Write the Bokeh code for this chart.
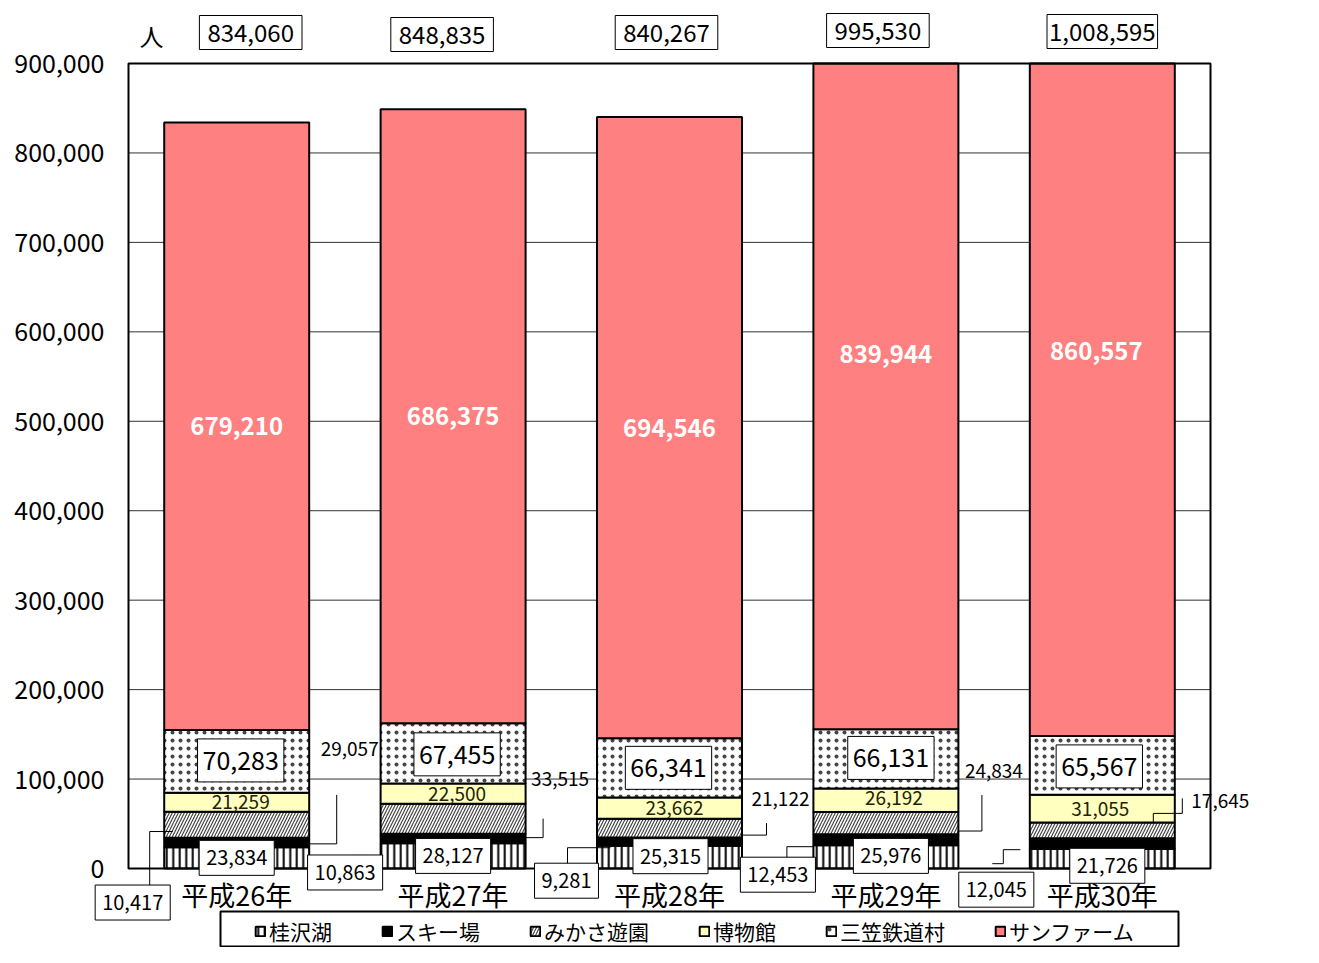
import numpy as np
from bokeh.plotting import figure
from bokeh.models import Range1d, Label
from bokeh.embed import file_html
from bokeh.resources import INLINE

# ---------------- data ----------------
categories = ["平成26年", "平成27年", "平成28年", "平成29年", "平成30年"]
series_names = ["桂沢湖", "スキー場", "みかさ遊園", "博物館", "三笠鉄道村", "サンファーム"]
katsurazawa = [23834, 28127, 25315, 25976, 21726]
ski = [10417, 10863, 9281, 12453, 12045]
mikasa_yuen = [29057, 33515, 21122, 24834, 17645]
museum = [21259, 22500, 23662, 26192, 31055]
railway = [70283, 67455, 66341, 66131, 65567]
sunfarm = [679210, 686375, 694546, 839944, 860557]
y_ticks = [0, 100000, 200000, 300000, 400000, 500000, 600000, 700000, 800000, 900000]
unit_label = "人"

# ---------------- layout ----------------
FONT = "Noto Sans CJK JP"
W, H = 1303, 947
PL, PR, PT, PB = 128, 1210, 63, 868      # plot-area edges in canvas pixels
YMAX = 900000
n = len(categories)
px_x = (PR - PL) / n
px_y = (PB - PT) / YMAX

def to_dx(px):          # canvas px -> data x
    return (px - PL) / px_x

def to_dy(py):          # canvas px (from top) -> data y
    return (PB - py) / px_y

x_range = Range1d(to_dx(0), to_dx(W))
y_range = Range1d(to_dy(H), to_dy(0))

p = figure(width=W, height=H, x_range=x_range, y_range=y_range,
           output_backend="svg", toolbar_location=None,
           x_axis_location=None, y_axis_location=None, min_border=0)
p.grid.visible = False
p.outline_line_color = None
p.background_fill_color = "white"
p.border_fill_color = "white"

xs = [i + 0.5 for i in range(n)]
series = [katsurazawa, ski, mikasa_yuen, museum, railway, sunfarm]
arr = np.array(series, dtype=float)
tops = np.cumsum(arr, axis=0)
bots = tops - arr
mids = (tops + bots) / 2
totals = arr.sum(axis=0)

# grid lines inside the plot area
p.segment(x0=[0] * len(y_ticks), x1=[n] * len(y_ticks), y0=y_ticks, y1=y_ticks,
          line_color="#333333", line_width=1)

# bars (clipped at the axis maximum like the original)
fills = ["white", "black", "white", "#FFFFC0", "white", "#FF8080"]
hatches = ["vertical_line", " ", "right_diagonal_line", " ", "dot", " "]
hcolors = ["black", "black", "#444444", "black", "#444444", "black"]
hscales = [6.5, 7, 6, 7, 8, 7]
hweights = [2, 1, 1.2, 1, 0.5, 1]
for si in range(len(series)):
    p.vbar(x=xs, width=0.67, bottom=np.minimum(bots[si], YMAX), top=np.minimum(tops[si], YMAX),
           fill_color=fills[si], line_color="black", line_width=2,
           hatch_pattern=hatches[si], hatch_color=hcolors[si],
           hatch_scale=hscales[si], hatch_weight=hweights[si],
           legend_label=series_names[si])

# plot-area frame
p.quad(left=[0], right=[n], bottom=[0], top=[YMAX], fill_color=None,
       line_color="black", line_width=2)

# legend frame
p.quad(left=[to_dx(220)], right=[to_dx(1178)], bottom=[to_dy(946)], top=[to_dy(911)],
       fill_color="white", line_color="black", line_width=2)

# y tick labels
for t in y_ticks:
    p.add_layout(Label(x=0, y=t, x_offset=-24, text=f"{t:,}", text_font=FONT,
                       text_font_size="25px", text_color="black",
                       text_align="right", text_baseline="middle"))

# category labels
for x, c in zip(xs, categories):
    p.add_layout(Label(x=x, y=0, y_offset=-26, text=c, text_font=FONT,
                       text_font_size="27px", text_color="black",
                       text_align="center", text_baseline="middle"))

# ---------------- data labels ----------------
def fmt(v):
    return f"{int(v):,}"

label_offsets = {
    0: [(0, 0), (0, 0), (1, -1), (5, -1), (5, 7)],
    1: [(-104, 60), (-108, 34), (-103, 39), (-108, 35), (-106, 46)],
    2: [(113, -76), (107, -40), (111, -29), (108, -52), (118, -29)],
    3: [(4, 0), (4, 0), (5, 0), (8, -2), (-2, 0)],
    4: [(4, -1), (4, 1), (-1, 0), (5, -1), (-3, 1)],
    5: [(0, 0), (0, 0), (0, 0), (0, 0), (-6, 0)],
}
label_style = {
    0: dict(size="20px", box=True, color="black", bold=False, pad=(7, 10)),
    1: dict(size="20px", box=True, color="black", bold=False, pad=(7, 10)),
    2: dict(size="19px", box=False, color="black", bold=False, pad=None),
    3: dict(size="19px", box=False, color="#222200", bold=False, pad=None),
    4: dict(size="25px", box=True, color="black", bold=False, pad=(5, 12)),
    5: dict(size="24px", box=False, color="white", bold=True, pad=None),
}

for si in range(len(series)):
    st = label_style[si]
    for ci in range(n):
        dx, dy = label_offsets[si][ci]
        kw = dict(x=xs[ci], y=mids[si, ci], x_offset=dx, y_offset=-dy,
                  text=fmt(arr[si, ci]), text_font=FONT, text_font_size=st["size"],
                  text_color=st["color"], text_align="center", text_baseline="middle",
                  text_font_style="bold" if st["bold"] else "normal")
        if st["box"]:
            ph, pv = st["pad"]
            kw.update(background_fill_color="white", border_line_color="black",
                      border_line_width=1,
                      padding=dict(left=ph, right=ph, top=pv, bottom=pv))
        p.add_layout(Label(**kw))

# totals above the plot area
total_offsets = [(14, -31), (-11, -29), (-3, -31), (-8, -33), (0, -32)]
total_hpad = [8, 8, 8, 8, 2]
for ci in range(n):
    dx, dy = total_offsets[ci]
    p.add_layout(Label(x=xs[ci], y=YMAX, x_offset=dx, y_offset=-dy, text=fmt(totals[ci]),
                       text_font=FONT, text_font_size="24px", text_color="black",
                       text_align="center", text_baseline="middle",
                       background_fill_color="white", border_line_color="black",
                       border_line_width=1,
                       padding=dict(left=total_hpad[ci], right=total_hpad[ci], top=8, bottom=8)))

p.add_layout(Label(x=0, y=YMAX, x_offset=23, y_offset=28, text=unit_label, text_font=FONT,
                   text_font_size="24px", text_color="black", text_align="center",
                   text_baseline="middle"))

# leader lines (px offsets relative to segment anchor)
leaders = {
    1: [[(-87, 43), (-87, -11), (-64, -11)],
        [(-100, 25), (-100, 17), (-80, 17)],
        [(-102, 26), (-102, 6), (-59, 6)],
        [(-99, 24), (-99, 7), (-72, 7)],
        [(-110, 20), (-99, 20), (-99, 6), (-82, 6)]],
    2: [[(100, -30), (100, 19), (72, 19)],
        [(90, 0), (90, 19), (72, 19)],
        [(97, -5), (97, 7), (73, 7)],
        [(96, -28), (96, 8), (72, 8)],
        [(80, -32), (80, -17), (51, -17), (51, -8)]],
}
lx, ly = [], []
for si, lst in leaders.items():
    for ci, pts in enumerate(lst):
        lx.append([xs[ci] + dx / px_x for dx, dy in pts])
        ly.append([mids[si, ci] - dy / px_y for dx, dy in pts])
p.multi_line(lx, ly, line_color="black", line_width=1)

# legend (frame drawn above)
lg = p.legend[0]
lg.orientation = "horizontal"
lg.location = (254, 1)
lg.label_text_font = FONT
lg.label_text_font_size = "21px"
lg.label_text_color = "black"
lg.glyph_width = 12
lg.glyph_height = 12
lg.label_standoff = 3
lg.spacing = 49
lg.padding = 2
lg.margin = 0
lg.border_line_color = None
lg.background_fill_alpha = 0

open("out.html", "w").write(file_html(p, INLINE))
